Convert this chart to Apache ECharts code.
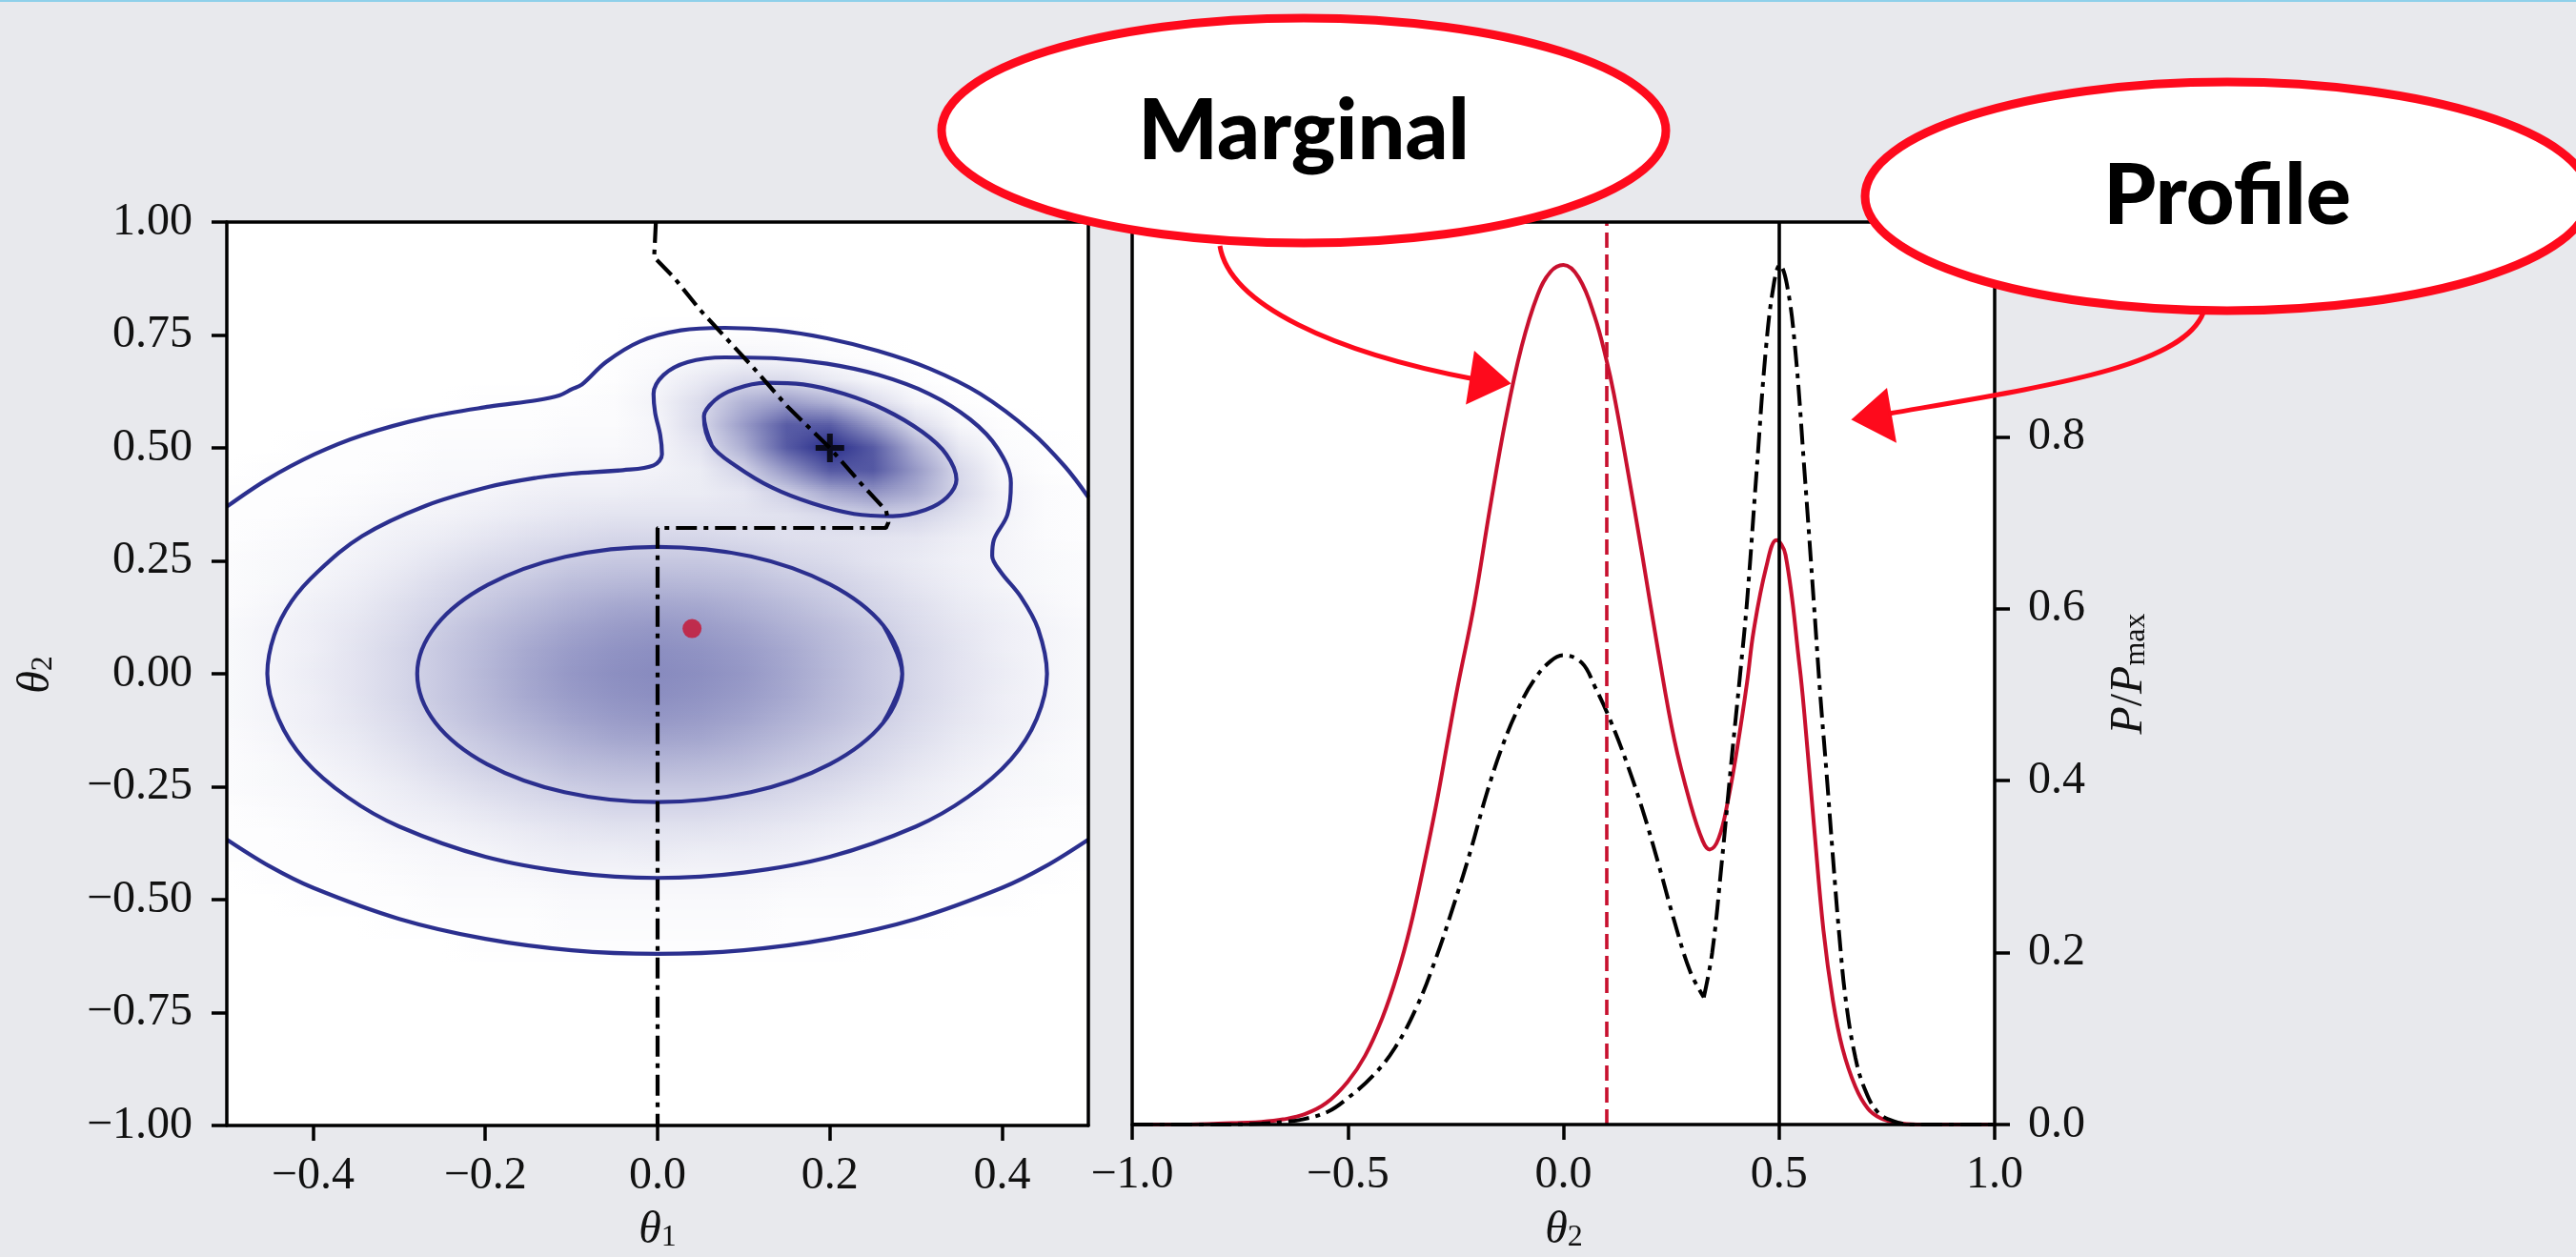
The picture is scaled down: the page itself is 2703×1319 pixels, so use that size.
<!DOCTYPE html>
<html>
<head>
<meta charset="utf-8">
<title>Marginal vs profile posterior</title>
<script src="https://cdn.jsdelivr.net/npm/echarts@6.0.0/dist/echarts.min.js"></script>
<style>
  html, body { margin: 0; padding: 0; background: #e8e9ed; }
  #chart { width: 2703px; height: 1319px; }
</style>
</head>
<body>
<div id="chart"></div>
<script>
// ---- axis ticks ----
var theta1Ticks = [-0.4, -0.2, 0, 0.2, 0.4];
var theta2TicksLeft = [-1, -0.75, -0.5, -0.25, 0, 0.25, 0.5, 0.75, 1];
var theta2TicksRight = [-1, -0.5, 0, 0.5, 1];
var ratioTicks = [0, 0.2, 0.4, 0.6, 0.8, 1.0];

// ---- posterior image (P/Pmax), rows top to bottom ----
var gridTheta1 = [-0.5, -0.45, -0.4, -0.35, -0.3, -0.25, -0.2, -0.15, -0.1, -0.05, 0,
                  0.05, 0.1, 0.15, 0.2, 0.25, 0.3, 0.35, 0.4, 0.45, 0.5];
var gridTheta2 = [0.8, 0.75, 0.7, 0.65, 0.6, 0.55, 0.5, 0.45, 0.4, 0.35, 0.3, 0.25, 0.2, 0.15, 0.1, 0.05, 0,
                  -0.05, -0.1, -0.15, -0.2, -0.25, -0.3, -0.35, -0.4, -0.45, -0.5, -0.55, -0.6, -0.65];
var densityRows = [
  [0,0,0,0,0,0,0,0,0,0,0,0,0,0,0,0,0,0,0,0,0],
  [0,0,0,0,0,0,0,0,0,0,.01,.01,.01,.01,0,0,0,0,0,0,0],
  [0,0,0,0,0,0,0,0,0,.01,.02,.04,.05,.04,.02,.01,0,0,0,0,0],
  [0,0,0,0,0,0,0,0,0,.01,.04,.10,.17,.17,.10,.04,.01,0,0,0,0],
  [0,0,0,0,0,0,.01,.01,.01,.02,.06,.17,.36,.46,.36,.17,.05,.01,0,0,0],
  [0,0,0,0,.01,.01,.01,.01,.02,.02,.05,.18,.47,.77,.77,.47,.17,.04,.01,0,0],
  [0,0,.01,.01,.01,.02,.02,.02,.03,.03,.05,.13,.38,.78,1.0,.78,.37,.11,.02,.01,0],
  [0,.01,.01,.01,.02,.03,.03,.04,.05,.05,.06,.09,.21,.50,.79,.79,.48,.18,.04,.01,0],
  [.01,.01,.01,.02,.03,.04,.05,.07,.08,.08,.09,.09,.12,.23,.41,.50,.39,.19,.06,.02,.01],
  [.01,.01,.02,.03,.05,.06,.08,.10,.12,.13,.13,.13,.13,.14,.18,.23,.21,.13,.06,.02,.01],
  [.01,.02,.03,.05,.07,.09,.12,.15,.17,.19,.19,.19,.17,.15,.14,.13,.12,.08,.05,.02,.01],
  [.02,.03,.04,.06,.09,.13,.17,.20,.24,.26,.26,.26,.24,.20,.17,.13,.10,.07,.05,.03,.02],
  [.02,.03,.05,.08,.12,.17,.22,.26,.31,.33,.34,.33,.31,.26,.22,.17,.12,.08,.05,.03,.02],
  [.02,.04,.07,.10,.15,.20,.26,.32,.37,.41,.42,.41,.37,.32,.26,.20,.15,.10,.07,.04,.02],
  [.03,.05,.08,.12,.17,.24,.31,.37,.43,.47,.49,.47,.43,.37,.31,.24,.17,.12,.08,.05,.03],
  [.03,.05,.08,.13,.19,.26,.33,.41,.47,.51,.53,.51,.47,.41,.33,.26,.19,.13,.08,.05,.03],
  [.03,.05,.09,.13,.19,.26,.34,.42,.49,.53,.55,.53,.49,.42,.34,.26,.19,.13,.09,.05,.03],
  [.03,.05,.08,.13,.19,.26,.33,.41,.47,.51,.53,.51,.47,.41,.33,.26,.19,.13,.08,.05,.03],
  [.03,.05,.08,.12,.17,.24,.31,.37,.43,.47,.49,.47,.43,.37,.31,.24,.17,.12,.08,.05,.03],
  [.02,.04,.07,.10,.15,.20,.26,.32,.37,.41,.42,.41,.37,.32,.26,.20,.15,.10,.07,.04,.02],
  [.02,.03,.05,.08,.12,.17,.22,.26,.31,.33,.34,.33,.31,.26,.22,.17,.12,.08,.05,.03,.02],
  [.02,.03,.04,.06,.09,.13,.17,.20,.24,.26,.26,.26,.24,.20,.17,.13,.09,.06,.04,.03,.02],
  [.01,.02,.03,.05,.07,.09,.12,.15,.17,.19,.19,.19,.17,.15,.12,.09,.07,.05,.03,.02,.01],
  [.01,.01,.02,.03,.05,.06,.08,.10,.12,.13,.13,.13,.12,.10,.08,.06,.05,.03,.02,.01,.01],
  [.01,.01,.01,.02,.03,.04,.05,.07,.08,.08,.09,.08,.08,.07,.05,.04,.03,.02,.01,.01,.01],
  [0,.01,.01,.01,.02,.03,.03,.04,.05,.05,.05,.05,.05,.04,.03,.03,.02,.01,.01,.01,0],
  [0,0,.01,.01,.01,.02,.02,.02,.03,.03,.03,.03,.03,.02,.02,.02,.01,.01,.01,0,0],
  [0,0,0,0,.01,.01,.01,.01,.02,.02,.02,.02,.02,.01,.01,.01,.01,0,0,0,0],
  [0,0,0,0,0,0,.01,.01,.01,.01,.01,.01,.01,.01,.01,0,0,0,0,0,0],
  [0,0,0,0,0,0,0,0,0,0,0,0,0,0,0,0,0,0,0,0,0]
];

// ---- contour lines [theta1, theta2] ----
var contourOuterTop = [
  [-0.5, 0.37], [-0.4535, 0.4297], [-0.3982, 0.4859], [-0.3429, 0.5281], [-0.2692, 0.5668],
  [-0.1954, 0.5914], [-0.1401, 0.6055], [-0.1143, 0.616], [-0.0996, 0.63], [-0.0877, 0.6406],
  [-0.06, 0.6899], [-0.0205, 0.7356], [0.0269, 0.7602], [0.0782, 0.7658], [0.1375, 0.7602],
  [0.1967, 0.7426], [0.256, 0.7145], [0.3153, 0.6758], [0.3745, 0.6196], [0.4338, 0.5352],
  [0.4733, 0.4578], [0.5, 0.391]
];
var contourOuterBottom = [
  [-0.5, -0.367], [-0.45, -0.4265], [-0.4, -0.4737], [-0.3, -0.5426], [-0.2, -0.5868],
  [-0.1, -0.6119], [0, -0.62], [0.1, -0.6119], [0.2, -0.5868], [0.3, -0.5426],
  [0.4, -0.4737], [0.45, -0.4265], [0.5, -0.367]
];
var contourMiddle = [
  [-0.0996, 0.443], [-0.0403, 0.4508], [-0.0047, 0.4613], [0.0051, 0.4859], [0.0031, 0.5281],
  [-0.0028, 0.5773], [-0.0047, 0.6196], [0.0071, 0.6617], [0.0348, 0.6899], [0.0782, 0.7004],
  [0.1375, 0.6983], [0.1967, 0.6863], [0.256, 0.6617], [0.3153, 0.6196], [0.3627, 0.5633],
  [0.3943, 0.5], [0.4101, 0.4226], [0.4061, 0.3523], [0.3903, 0.2961], [0.3884, 0.2609],
  [0.3982, 0.2258], [0.4219, 0.1695], [0.4417, 0.0991], [0.452, 0.0], [0.44, -0.1],
  [0.41, -0.19], [0.36, -0.273], [0.3, -0.338], [0.2, -0.405], [0.1, -0.44], [0, -0.452],
  [-0.1, -0.44], [-0.2, -0.405], [-0.3, -0.338], [-0.36, -0.273], [-0.41, -0.19],
  [-0.44, -0.1], [-0.453, 0], [-0.445, 0.085], [-0.425, 0.16], [-0.3945, 0.2257],
  [-0.3429, 0.305], [-0.2692, 0.372], [-0.1954, 0.414], [-0.14, 0.434], [-0.0996, 0.443]
];
var contourInnerBroad = [
  [0.284, 0], [0.262, 0.107], [0.2, 0.198], [0.108, 0.26], [0, 0.281], [-0.107, 0.259],
  [-0.197, 0.197], [-0.257, 0.107], [-0.279, 0], [-0.258, -0.108], [-0.198, -0.2],
  [-0.108, -0.262], [0, -0.284], [0.108, -0.262], [0.2, -0.2], [0.262, -0.108], [0.284, 0]
];
var contourInnerNarrow = [
  [0.0538, 0.5703], [0.0664, 0.6055], [0.09, 0.6302], [0.1257, 0.6441], [0.1691, 0.6407],
  [0.2165, 0.6196], [0.2639, 0.5844], [0.3074, 0.5352], [0.3351, 0.4859], [0.3469, 0.4297],
  [0.336, 0.391], [0.311, 0.363], [0.273, 0.349], [0.228, 0.354], [0.18, 0.377],
  [0.133, 0.412], [0.091, 0.46], [0.063, 0.505], [0.0538, 0.5703]
];
// path of the profile maximum over theta1
var profilePath = [
  [-0.002, 1.0], [-0.003, 0.96], [-0.004, 0.922], [0.02, 0.875], [0.0494, 0.8053],
  [0.1087, 0.6827], [0.151, 0.591], [0.2, 0.5], [0.2356, 0.4222], [0.2653, 0.361],
  [0.268, 0.335], [0.265, 0.3228], [0.0, 0.3228], [0.0, -1.0]
];
var truthPoint = [[0.04, 0.1]];
var maxPoint = [[0.2, 0.5]];

// ---- 1D curves over theta2 ----
var marginalTheta2 = [-1.0, -0.9, -0.8, -0.75, -0.7, -0.65, -0.6, -0.55, -0.5, -0.46, -0.42, -0.385,
  -0.355, -0.325, -0.295, -0.267, -0.245, -0.207, -0.17, -0.134, -0.097, -0.06, -0.03, 0.0,
  0.036, 0.0725, 0.1, 0.117, 0.146, 0.183, 0.22, 0.257, 0.294, 0.323, 0.339, 0.36, 0.382,
  0.404, 0.426, 0.441, 0.47, 0.494, 0.515, 0.5477, 0.5587, 0.581, 0.603, 0.625, 0.647,
  0.677, 0.706, 0.735, 0.772, 0.82, 0.9, 1.0];
var marginalValue = [0, 0, 0.001, 0.002, 0.003, 0.006, 0.012, 0.025, 0.05, 0.08, 0.124, 0.175,
  0.23, 0.298, 0.372, 0.45, 0.51, 0.605, 0.718, 0.82, 0.905, 0.965, 0.992, 1.0,
  0.985, 0.94, 0.889, 0.85, 0.77, 0.662, 0.55, 0.448, 0.374, 0.33, 0.32, 0.333, 0.378,
  0.441, 0.515, 0.574, 0.648, 0.68, 0.663, 0.533, 0.478, 0.348, 0.226, 0.144, 0.089,
  0.044, 0.0185, 0.0074, 0.002, 0, 0, 0];
var profileTheta2 = [-1.0, -0.8, -0.7, -0.65, -0.605, -0.546, -0.502, -0.443, -0.391, -0.34,
  -0.296, -0.252, -0.215, -0.178, -0.141, -0.104, -0.067, -0.03, 0, 0.043, 0.0725, 0.109,
  0.146, 0.183, 0.22, 0.257, 0.294, 0.3255, 0.345, 0.367, 0.389, 0.4, 0.41, 0.426, 0.448,
  0.47, 0.4886, 0.5018, 0.518, 0.537, 0.559, 0.581, 0.5956, 0.61, 0.625, 0.64, 0.655,
  0.677, 0.699, 0.728, 0.765, 0.81, 1.0];
var profileValue = [0, 0, 0.001, 0.003, 0.006, 0.015, 0.03, 0.056, 0.089, 0.137,
  0.193, 0.259, 0.319, 0.385, 0.441, 0.485, 0.518, 0.539, 0.546, 0.537, 0.51, 0.47,
  0.422, 0.367, 0.304, 0.237, 0.178, 0.148, 0.2, 0.304, 0.42, 0.475, 0.525, 0.61, 0.76,
  0.905, 0.98, 1.0, 0.978, 0.905, 0.76, 0.605, 0.5, 0.41, 0.311, 0.2185, 0.144,
  0.078, 0.041, 0.015, 0.004, 0, 0];
var truthTheta2 = 0.1;
var maxTheta2 = 0.5;

// ---- styling ----
var NAVY = '#2b2f8e';
var CRIMSON = '#c8102e';
var MARK_RED = '#fe0a1c';
var SERIF = "'Liberation Serif', 'DejaVu Serif', serif";
var STRIPS = 12;

function shade(v) {
    v = Math.max(0, Math.min(1, v));
    var r = Math.round(255 + v * (38 - 255));
    var g = Math.round(255 + v * (43 - 255));
    var b = Math.round(255 + v * (138 - 255));
    return 'rgb(' + r + ',' + g + ',' + b + ')';
}
function zip(xs, ys) {
    return xs.map(function (x, i) { return [x, ys[i]]; });
}
// repeat neighbours so the smoothed closed curve has no kink where it joins
function closeLoop(c) {
    return [c[c.length - 2]].concat(c, [c[1]]);
}
function tickText(digits) {
    return function (v) { return v.toFixed(digits).replace('-', '\u2212'); };
}

var chart = echarts.init(document.getElementById('chart'));

function axisBase(gridIndex, min, max, position) {
    return {
        gridIndex: gridIndex, type: 'value', min: min, max: max, position: position, z: 10,
        axisLine: { show: true, onZero: false, lineStyle: { color: '#000', width: 3.5 } },
        axisTick: { show: false },
        axisLabel: { show: false },
        splitLine: { show: false }
    };
}
function tickedAxis(gridIndex, min, max, position, ticks, digits, margin) {
    var a = axisBase(gridIndex, min, max, position);
    a.axisTick = { show: true, inside: false, length: 16, customValues: ticks,
                   lineStyle: { color: '#000', width: 3.5 } };
    a.axisLabel = { show: true, customValues: ticks, formatter: tickText(digits), margin: margin,
                    fontFamily: SERIF, fontSize: 48, color: '#111' };
    return a;
}

// split the profile at its cusp so the corner stays sharp
var profilePoints = zip(profileTheta2, profileValue);
var cusp = profileTheta2.indexOf(0.3255);
var profileLeft = profilePoints.slice(0, cusp + 1);
var profileRight = profilePoints.slice(cusp);

function curveSeries(data, color, width, type, z) {
    return {
        type: 'line', xAxisIndex: 2, yAxisIndex: 2, data: data, showSymbol: false,
        smooth: 0.4, silent: true, z: z, lineStyle: { color: color, width: width, type: type }
    };
}

var series = [
    // posterior image, drawn as thin strips between stored rows
    {
        type: 'custom', xAxisIndex: 0, yAxisIndex: 0, clip: true, z: 1, silent: true,
        data: gridTheta2.slice(0, -1).map(function (t) { return [0, t]; }),
        renderItem: function (params, api) {
            var i = params.dataIndex;
            var tA = gridTheta2[i], tB = gridTheta2[i + 1];
            var rowA = densityRows[i], rowB = densityRows[i + 1];
            var n = gridTheta1.length;
            var children = [];
            for (var k = 0; k < STRIPS; k++) {
                var f = (k + 0.5) / STRIPS;
                var p0 = api.coord([gridTheta1[0], tA + (tB - tA) * k / STRIPS]);
                var p1 = api.coord([gridTheta1[n - 1], tA + (tB - tA) * (k + 1) / STRIPS]);
                var stops = rowA.map(function (v, j) {
                    return { offset: j / (n - 1), color: shade(v + (rowB[j] - v) * f) };
                });
                children.push({
                    type: 'rect',
                    shape: { x: p0[0], y: p0[1] - 0.4, width: p1[0] - p0[0], height: p1[1] - p0[1] + 0.8 },
                    style: { fill: new echarts.graphic.LinearGradient(0, 0, 1, 0, stops) }
                });
            }
            return { type: 'group', children: children };
        }
    }
];

[contourOuterTop, contourOuterBottom].forEach(function (c) {
    series.push({
        type: 'line', xAxisIndex: 0, yAxisIndex: 0, data: c, showSymbol: false, smooth: 0.35,
        silent: true, z: 3, lineStyle: { color: NAVY, width: 4.2 }
    });
});
[contourMiddle, contourInnerBroad, contourInnerNarrow].forEach(function (c) {
    series.push({
        type: 'line', xAxisIndex: 0, yAxisIndex: 0, data: closeLoop(c), showSymbol: false, smooth: 0.35,
        silent: true, z: 3, lineStyle: { color: NAVY, width: 4.2 }
    });
});

series.push(
    {
        type: 'line', xAxisIndex: 0, yAxisIndex: 0, data: profilePath, showSymbol: false, silent: true, z: 4,
        lineStyle: { color: '#000', width: 4.2, type: [22, 7, 5, 7] }
    },
    {
        type: 'scatter', xAxisIndex: 0, yAxisIndex: 0, data: truthPoint, symbol: 'circle', symbolSize: 20,
        silent: true, z: 5, itemStyle: { color: CRIMSON }
    },
    {
        type: 'scatter', xAxisIndex: 0, yAxisIndex: 0, data: maxPoint, silent: true, z: 5,
        symbol: 'path://M0.4,0H0.6V0.4H1V0.6H0.6V1H0.4V0.6H0V0.4H0.4Z', symbolSize: 30,
        itemStyle: { color: '#000' }
    }
);

var marginal = curveSeries(zip(marginalTheta2, marginalValue), CRIMSON, 4, 'solid', 3);
marginal.markLine = {
    silent: true, symbol: ['none', 'none'], label: { show: false },
    data: [
        { xAxis: truthTheta2, lineStyle: { color: CRIMSON, width: 3.6, type: [16, 7] } },
        { xAxis: maxTheta2, lineStyle: { color: '#000', width: 3.6, type: 'solid' } }
    ]
};
series.push(marginal);
series.push(curveSeries(profileLeft, '#000', 4, [22, 7, 5, 7], 4));
series.push(curveSeries(profileRight, '#000', 4, [22, 7, 5, 7], 4));

function mathLabel(x, y, rotation, text) {
    return {
        type: 'text', x: x, y: y, rotation: rotation, z: 50, silent: true,
        style: {
            text: text, align: 'center', verticalAlign: 'middle', fill: '#111',
            rich: {
                i: { fontFamily: SERIF, fontStyle: 'italic', fontSize: 48, fill: '#111' },
                n: { fontFamily: SERIF, fontSize: 48, fill: '#111' },
                s: { fontFamily: SERIF, fontSize: 32, lineHeight: 18, verticalAlign: 'bottom', fill: '#111' }
            }
        }
    };
}

var option = {
    animation: false,
    backgroundColor: '#e8e9ed',
    grid: [
        { left: 238, top: 233, width: 904, height: 948, show: true, backgroundColor: '#fff', borderWidth: 0 },
        { left: 1188, top: 233, width: 905, height: 947, show: true, backgroundColor: '#fff', borderWidth: 0 }
    ],
    xAxis: [
        tickedAxis(0, -0.5, 0.5, 'bottom', theta1Ticks, 1, 29),
        axisBase(0, -0.5, 0.5, 'top'),
        tickedAxis(1, -1, 1, 'bottom', theta2TicksRight, 1, 29),
        axisBase(1, -1, 1, 'top')
    ],
    yAxis: [
        tickedAxis(0, -1, 1, 'left', theta2TicksLeft, 2, 36),
        axisBase(0, -1, 1, 'right'),
        tickedAxis(1, 0, 1.05, 'right', ratioTicks, 1, 35),
        axisBase(1, 0, 1.05, 'left')
    ],
    series: series,
    graphic: [
        { type: 'rect', shape: { x: 0, y: 0, width: 2703, height: 2 }, style: { fill: '#8ed0ea' }, z: 200 },
        mathLabel(690, 1291, 0, '{i|\u03b8}{s|1}'),
        mathLabel(1641, 1291, 0, '{i|\u03b8}{s|2}'),
        mathLabel(38, 708, Math.PI / 2, '{i|\u03b8}{s|2}'),
        mathLabel(2234, 707, Math.PI / 2, '{i|P}{n|/}{i|P}{s|max}'),
        // "Marginal" call-out
        {
            type: 'bezierCurve', z: 100, silent: true,
            shape: { x1: 1280, y1: 258, cpx1: 1290, cpy1: 320, cpx2: 1400, cpy2: 370, x2: 1548, y2: 398 },
            style: { stroke: MARK_RED, lineWidth: 5, fill: null }
        },
        {
            type: 'polygon', z: 100, silent: true,
            shape: { points: [[1583, 402], [1548, 371], [1540, 422]] },
            style: { fill: MARK_RED, stroke: MARK_RED, lineWidth: 3 }
        },
        {
            type: 'ellipse', z: 101, silent: true,
            shape: { cx: 1368, cy: 137, rx: 380, ry: 118 },
            style: { fill: '#fff', stroke: MARK_RED, lineWidth: 9 }
        },
        {
            type: 'text', x: 1368, y: 139, z: 102, silent: true,
            style: { text: 'Marginal', align: 'center', verticalAlign: 'middle', fill: '#000',
                     fontFamily: 'Lato, Roboto, sans-serif', fontWeight: 900, fontSize: 88 }
        },
        // "Profile" call-out
        {
            type: 'bezierCurve', z: 100, silent: true,
            shape: { x1: 2312, y1: 328, cpx1: 2290, cpy1: 385, cpx2: 2150, cpy2: 405, x2: 1982, y2: 434 },
            style: { stroke: MARK_RED, lineWidth: 5, fill: null }
        },
        {
            type: 'polygon', z: 100, silent: true,
            shape: { points: [[1945, 440], [1979, 410], [1988, 462]] },
            style: { fill: MARK_RED, stroke: MARK_RED, lineWidth: 3 }
        },
        {
            type: 'ellipse', z: 101, silent: true,
            shape: { cx: 2337, cy: 206, rx: 380, ry: 120 },
            style: { fill: '#fff', stroke: MARK_RED, lineWidth: 9 }
        },
        {
            type: 'text', x: 2337, y: 207, z: 102, silent: true,
            style: { text: 'Profile', align: 'center', verticalAlign: 'middle', fill: '#000',
                     fontFamily: 'Lato, Roboto, sans-serif', fontWeight: 900, fontSize: 88 }
        }
    ]
};

chart.setOption(option);
</script>
</body>
</html>
